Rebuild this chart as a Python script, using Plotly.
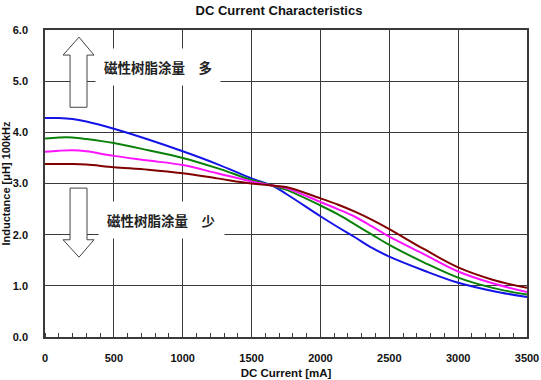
import plotly.graph_objects as go

# ---- data ----
current_ma = [0, 100, 200, 300, 500, 750, 1000, 1250, 1500, 1650, 1750, 2000, 2125, 2250, 2375, 2500, 2750, 3000, 3250, 3500]
blue_uh    = [4.28, 4.28, 4.26, 4.21, 4.07, 3.86, 3.63, 3.38, 3.10, 2.96, 2.80, 2.36, 2.15, 1.95, 1.74, 1.57, 1.30, 1.06, 0.90, 0.78]
green_uh   = [3.88, 3.90, 3.90, 3.87, 3.79, 3.65, 3.50, 3.30, 3.07, 2.96, 2.88, 2.57, 2.40, 2.20, 2.00, 1.80, 1.46, 1.16, 0.96, 0.83]
magenta_uh = [3.62, 3.64, 3.65, 3.63, 3.54, 3.45, 3.36, 3.20, 3.04, 2.96, 2.91, 2.64, 2.50, 2.35, 2.16, 1.96, 1.62, 1.28, 1.05, 0.88]
brown_uh   = [3.38, 3.38, 3.38, 3.37, 3.32, 3.27, 3.20, 3.10, 3.00, 2.96, 2.93, 2.71, 2.59, 2.45, 2.29, 2.11, 1.72, 1.36, 1.12, 0.96]

series_names  = ["Blue", "Green", "Magenta", "Brown"]
series_values = [blue_uh, green_uh, magenta_uh, brown_uh]
series_colors = ["#1414e6", "#0a820a", "#ff14ff", "#800000"]

x_tick_vals = [0, 500, 1000, 1500, 2000, 2500, 3000, 3500]
y_tick_vals = [0, 1, 2, 3, 4, 5, 6]
y_tick_text = ["0.0", "1.0", "2.0", "3.0", "4.0", "5.0", "6.0"]

label_more = "磁性树脂涂量　多"
label_less = "磁性树脂涂量　少"

FONT = "Liberation Sans, Arial, sans-serif"
GRID = "#3a3a3a"

fig = go.Figure()
for name, vals, col in zip(series_names, series_values, series_colors):
    fig.add_trace(go.Scatter(x=current_ma, y=vals, mode="lines", name=name,
                             line=dict(color=col, width=2, shape="spline", smoothing=1.0),
                             showlegend=False, hoverinfo="x+y"))

# up / down arrows (outline, white fill)
up_path = "M 247 5.86 L 356 5.51 L 305 5.51 L 305 4.49 L 182 4.49 L 182 5.51 L 131 5.51 Z"
down_path = "M 247 1.56 L 356 1.90 L 305 1.90 L 305 2.91 L 182 2.91 L 182 1.90 L 131 1.90 Z"
for p in (up_path, down_path):
    fig.add_shape(type="path", path=p, xref="x", yref="y",
                  line=dict(color="#444444", width=1), fillcolor="white", layer="above")

fig.add_annotation(x=365, y=5.28, xref="x", yref="y", text=f"<b>{label_more}</b>", showarrow=False,
                   xanchor="left", yanchor="middle", bgcolor="white", borderpad=8,
                   font=dict(family="Noto Sans CJK SC", size=13.5, color="#222222"))
fig.add_annotation(x=385, y=2.29, xref="x", yref="y", text=f"<b>{label_less}</b>", showarrow=False,
                   xanchor="left", yanchor="middle", bgcolor="white", borderpad=8,
                   font=dict(family="Noto Sans CJK SC", size=13.5, color="#222222"))

fig.update_layout(
    width=541, height=380,
    margin=dict(l=45, r=14, t=30, b=43),
    paper_bgcolor="white", plot_bgcolor="white",
    font=dict(family=FONT, color="#111111"),
    title=dict(text="<b>DC Current Characteristics</b>", x=279/541, xref="container",
               xanchor="center", y=1 - 10/380, yref="container", yanchor="middle",
               font=dict(family=FONT, size=13, color="#111111")),
)
fig.update_xaxes(
    range=[0, 3500], tickvals=x_tick_vals, ticktext=[f"<b>{v}</b>" for v in x_tick_vals],
    showgrid=True, gridcolor=GRID, gridwidth=1.3, automargin=False,
    showline=True, linecolor=GRID, linewidth=1.5, mirror=True,
    ticks="", ticklabelstandoff=10, zeroline=False,
    tickfont=dict(family=FONT, size=11, color="#111111"),
    minor=dict(dtick=100, tick0=0, ticks="inside", ticklen=4, tickcolor=GRID, tickwidth=1, showgrid=False),
    title=dict(text="<b>DC Current [mA]</b>", standoff=6, font=dict(family=FONT, size=11.5, color="#111111")),
)
fig.update_yaxes(
    range=[0, 6], tickvals=y_tick_vals, ticktext=[f"<b>{t}</b>" for t in y_tick_text],
    showgrid=True, gridcolor=GRID, gridwidth=1.3, automargin=False,
    showline=True, linecolor=GRID, linewidth=1.5, mirror=True,
    ticks="", ticklabelstandoff=13, zeroline=False,
    tickfont=dict(family=FONT, size=11, color="#111111"),
    title=dict(text="<b>Inductance [μH] 100kHz</b>", standoff=4, font=dict(family=FONT, size=11, color="#111111")),
)

fig.write_html("out.html", config={"displayModeBar": False},
               post_script="document.body.style.margin='0';document.body.style.overflow='hidden';")
